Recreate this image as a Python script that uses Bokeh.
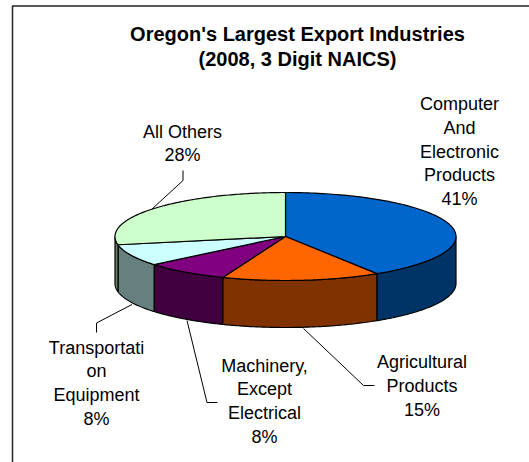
import numpy as np
from bokeh.plotting import figure
from bokeh.core.properties import value
from bokeh.embed import file_html
from bokeh.resources import INLINE

title_lines = ["Oregon's Largest Export Industries", "(2008, 3 Digit NAICS)"]
values = [41, 15, 8, 8, 28]
label_lines = [
    ["Computer", "And", "Electronic", "Products", "41%"],
    ["Agricultural", "Products", "15%"],
    ["Machinery,", "Except", "Electrical", "8%"],
    ["Transportati", "on", "Equipment", "8%"],
    ["All Others", "28%"],
]
top_colors = ["#0066CC", "#FF6600", "#800080", "#CCFFFF", "#CCFFCC"]
side_colors = ["#003366", "#803300", "#400040", "#668080", "#668066"]

W, H = 529, 462
CX, CY, RX, RY, DEPTH = 285, 236, 170.5, 44, 47
FONT = value("Liberation Sans")

p = figure(width=W, height=H, x_range=(0, W), y_range=(H, 0), toolbar_location=None,
           output_backend="svg", min_border=0, outline_line_color=None,
           background_fill_color="white", border_fill_color="white")
p.axis.visible = False
p.grid.visible = False

# frame (open at the right and bottom)
p.line([12, 12, W], [H, 5.5, 5.5], line_color="#222222", line_width=1.5)

# angular spans of the slices, clockwise from 12 o'clock
bounds = np.cumsum([0] + values) / sum(values) * 2 * np.pi

def ex(t):
    return CX + RX * np.sin(t)

def ey(t):
    return CY - RY * np.cos(t)

# side walls: only the front half of the ellipse is visible
for a, b, c in zip(bounds[:-1], bounds[1:], side_colors):
    lo, hi = max(a, np.pi / 2), min(b, 3 * np.pi / 2)
    if lo >= hi:
        continue
    t = np.linspace(lo, hi, 80)
    xs = np.concatenate([ex(t), ex(t[::-1])])
    ys = np.concatenate([ey(t), ey(t[::-1]) + DEPTH])
    p.patch(xs, ys, fill_color=c, line_color="black", line_width=1.2)

# top faces
for a, b, c in zip(bounds[:-1], bounds[1:], top_colors):
    t = np.linspace(a, b, 120)
    p.patch(np.concatenate([[CX], ex(t)]), np.concatenate([[CY], ey(t)]),
            fill_color=c, line_color="black", line_width=1.2)

# leader lines
leader_x = [[303, 363, 374], [186.5, 206.5, 217], [131.5, 96, 96], [151.5, 182.5, 182.5]]
leader_y = [[328, 385, 385], [320, 402, 402], [304, 322.5, 332], [208.5, 180, 170]]
p.multi_line(leader_x, leader_y, line_color="black", line_width=1)

# labels
label_x = [459, 421.5, 264, 96, 182]
label_y0 = [103.5, 361.5, 365, 347, 131]
LEAD = 23.8
for lines, x, y0 in zip(label_lines, label_x, label_y0):
    p.text([x] * len(lines), [y0 + i * LEAD for i in range(len(lines))], text=lines,
           text_font=FONT, text_font_size="18px", text_color="black",
           text_align="center", text_baseline="middle")

p.text([297, 297], [33, 58], text=title_lines, text_font=FONT, text_font_size="20px",
       text_font_style="bold", text_color="black", text_align="center", text_baseline="middle")

open("out.html", "w").write(file_html(p, INLINE))
